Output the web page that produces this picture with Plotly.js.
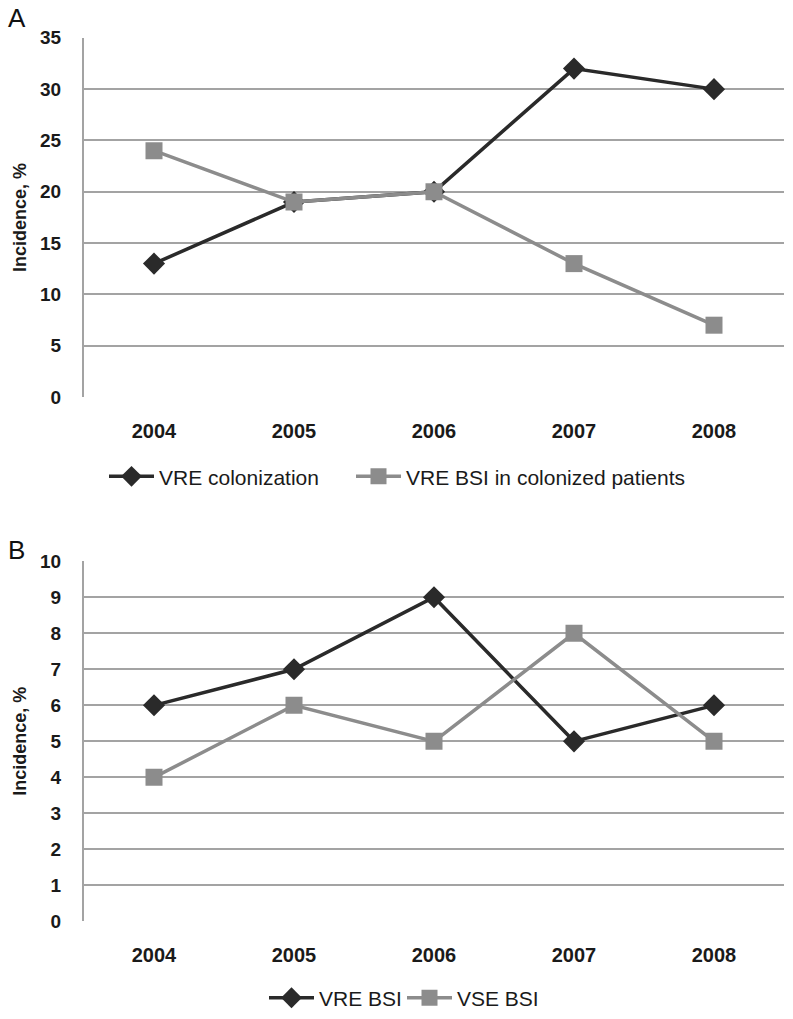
<!DOCTYPE html>
<html>
<head>
<meta charset="utf-8">
<script src="https://cdn.plot.ly/plotly-3.0.1.min.js"></script>
<style>html,body{margin:0;padding:0;background:#fff;}#chart{width:793px;height:1019px;}</style>
</head>
<body>
<div id="chart"></div>
<script>
const years = ['2004', '2005', '2006', '2007', '2008'];
const vreColonization = [13, 19, 20, 32, 30];
const vreBsiColonized = [24, 19, 20, 13, 7];
const vreBsi = [6, 7, 9, 5, 6];
const vseBsi = [4, 6, 5, 8, 5];

const dark = '#2a2a2a';
const gray = '#8c8c8c';
const fontFam = '"Liberation Sans", Arial, sans-serif';

function darkTrace(y, name, xa, ya, legend) {
  return {x: years, y: y, name: name, xaxis: xa, yaxis: ya, legend: legend,
    type: 'scatter', mode: 'lines+markers',
    line: {color: dark, width: 3.5},
    marker: {symbol: 'diamond', size: 17, color: dark}};
}
function grayTrace(y, name, xa, ya, legend) {
  return {x: years, y: y, name: name, xaxis: xa, yaxis: ya, legend: legend,
    type: 'scatter', mode: 'lines+markers',
    line: {color: gray, width: 3.5},
    marker: {symbol: 'square', size: 17, color: gray}};
}

const data = [
  darkTrace(vreColonization, 'VRE colonization', 'x', 'y', 'legend'),
  grayTrace(vreBsiColonized, 'VRE BSI in colonized patients', 'x', 'y', 'legend2'),
  darkTrace(vreBsi, 'VRE BSI', 'x2', 'y2', 'legend3'),
  grayTrace(vseBsi, 'VSE BSI', 'x2', 'y2', 'legend4')
];

const H = 1019, W = 793;
const xDom = [84 / W, 784 / W];
const xTickFont = {family: fontFam, size: 20, color: '#1a1a1a', weight: 'bold'};
const yTickFont = {family: fontFam, size: 19, color: '#1a1a1a', weight: 'bold'};

function xAxis(anchor) {
  return {domain: xDom, anchor: anchor, type: 'category', range: [-0.5, 4.5],
    showgrid: false, zeroline: false, showline: false, ticks: '',
    tickfont: xTickFont, ticklabelstandoff: 20};
}
function yAxis(anchor, dom, max, dtick) {
  return {domain: dom, anchor: anchor, range: [0, max], dtick: dtick,
    showgrid: true, gridcolor: '#a3a3a3', gridwidth: 2,
    zeroline: false, showline: true, linecolor: '#a3a3a3', linewidth: 2,
    ticks: '', tickfont: yTickFont, ticklabelstandoff: 17,
    title: {text: 'Incidence, %', font: {family: fontFam, size: 18, color: '#1a1a1a', weight: 'bold'}, standoff: 9}};
}
function leg(xpx, ypx) {
  return {orientation: 'h', x: xpx / W, xanchor: 'left', y: 1 - ypx / H, yanchor: 'middle',
    font: {family: fontFam, size: 21, color: '#1a1a1a'}, itemwidth: 45, bgcolor: 'rgba(0,0,0,0)'};
}

const layout = {
  width: W, height: H,
  margin: {l: 0, r: 0, t: 0, b: 0},
  paper_bgcolor: '#fff', plot_bgcolor: '#fff',
  showlegend: true,
  xaxis: xAxis('y'),
  yaxis: yAxis('x', [1 - 399 / H, 1 - 38 / H], 35, 5),
  xaxis2: xAxis('y2'),
  yaxis2: yAxis('x2', [1 - 926 / H, 1 - 564 / H], 10, 1),
  legend: leg(104, 479),
  legend2: leg(351, 479),
  legend3: leg(264, 1003),
  legend4: leg(402, 1003),
  annotations: [
    {text: 'A', x: 6 / W, y: 1 - 18 / H, xref: 'paper', yref: 'paper', xanchor: 'left', yanchor: 'middle', showarrow: false,
      font: {family: fontFam, size: 26, color: '#111'}},
    {text: 'B', x: 6 / W, y: 1 - 553 / H, xref: 'paper', yref: 'paper', xanchor: 'left', yanchor: 'middle', showarrow: false,
      font: {family: fontFam, size: 26, color: '#111'}}
  ]
};

Plotly.newPlot('chart', data, layout, {displayModeBar: false, staticPlot: true});
</script>
</body>
</html>
